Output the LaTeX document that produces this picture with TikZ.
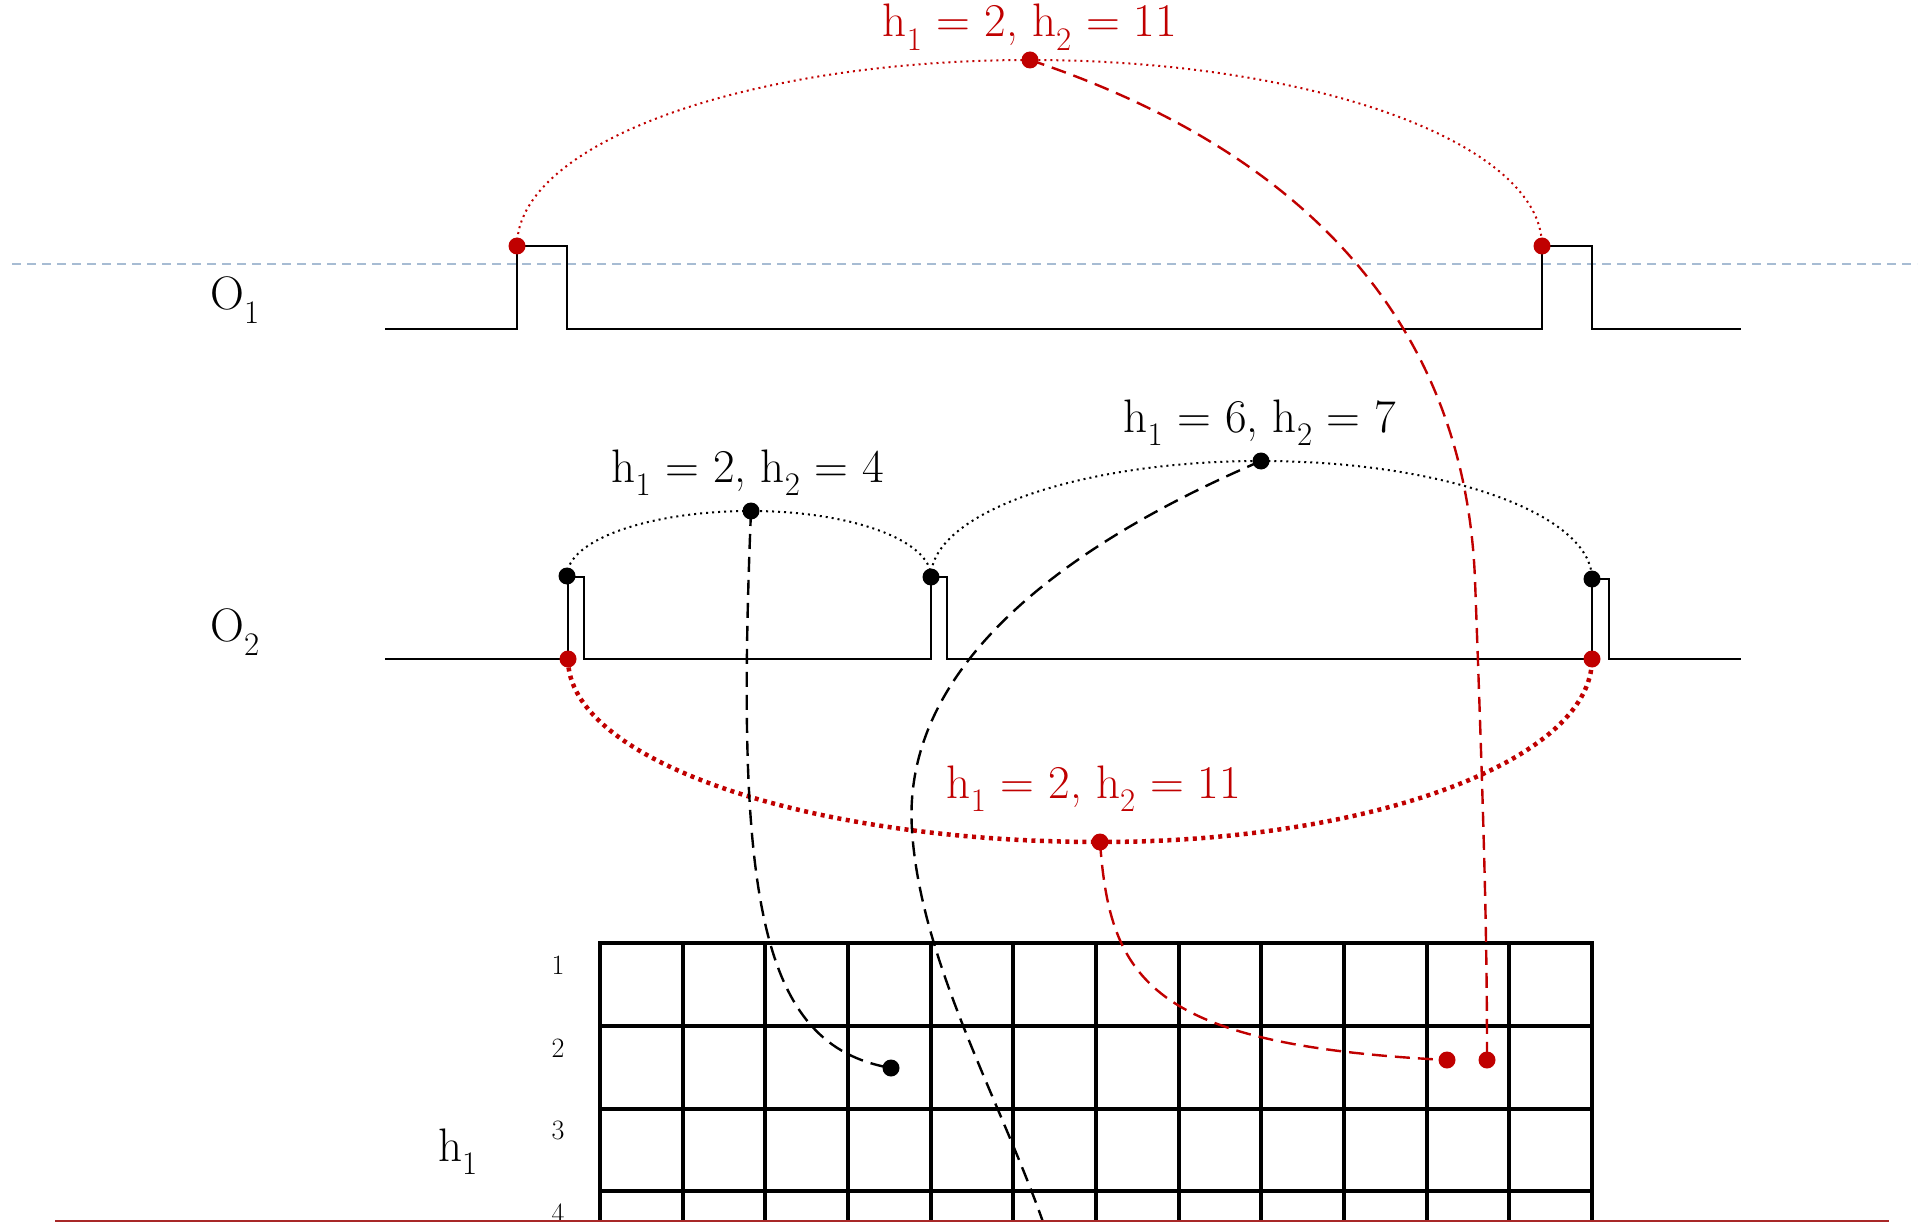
\documentclass[tikz,border=0pt]{standalone}
\usepackage{fontspec}
\definecolor{myred}{HTML}{C00000}
\definecolor{myblue}{HTML}{A7BCD3}
\definecolor{edgered}{HTML}{A82828}
\begin{document}
\begin{tikzpicture}[x=1pt,y=-1pt,
  sig/.style={line width=2.6pt, line join=miter, black},
  gridline/.style={line width=4pt, black},
  rdot/.style={circle, fill=myred, inner sep=0pt, minimum size=17pt},
  bdot/.style={circle, fill=black, inner sep=0pt, minimum size=17pt},
  bdotted/.style={line width=2pt, dash pattern=on 2pt off 4pt, black},
  rdotted/.style={line width=2pt, dash pattern=on 2pt off 4pt, myred},
  rthick/.style={line width=4.5pt, dash pattern=on 4pt off 4.5pt, myred},
  bdash/.style={line width=2.4pt, dash pattern=on 15pt off 8pt, black},
  rdash/.style={line width=2.4pt, dash pattern=on 15pt off 8pt, myred},
  biglab/.style={font=\fontsize{47}{56}\selectfont, inner sep=0pt},
  rowlab/.style={font=\fontsize{28}{34}\selectfont, inner sep=0pt}
]
\useasboundingbox (0,0) rectangle (1927,1222);

% reference dashed line
\draw[myblue, line width=2.5pt, dash pattern=on 9pt off 6pt] (12,264) -- (1917,264);

% signals
\draw[sig] (385,329) -- (517,329) -- (517,246) -- (567,246) -- (567,329) -- (1542,329) -- (1542,246) -- (1592,246) -- (1592,329) -- (1741,329);
\draw[sig] (385,659) -- (568,659) -- (568,577) -- (584,577) -- (584,659) -- (931,659) -- (931,577) -- (947,577) -- (947,659) -- (1592,659) -- (1592,579) -- (1609,579) -- (1609,659) -- (1741,659);

% labels
\node[biglab] (lo1) at (235,300) {O\textsubscript{1}};
\node[biglab] (lo2) at (235,632) {O\textsubscript{2}};
\node[biglab] (lh1) at (458,1152) {h\textsubscript{1}};

\node[biglab, myred, anchor=base] (ltop) at (1030,37) {h\textsubscript{1} = 2, h\textsubscript{2} = 11};
\node[biglab] (lb1) at (748,473) {h\textsubscript{1} = 2, h\textsubscript{2} = 4};
\node[biglab] (lb2) at (1260,423) {h\textsubscript{1} = 6, h\textsubscript{2} = 7};
\node[biglab, myred] (lmid) at (1094,789) {h\textsubscript{1} = 2, h\textsubscript{2} = 11};

% grid
\foreach \i in {0,...,12} {
  \draw[gridline] ({600+82.67*\i},941) -- ({600+82.67*\i},1222);
}
\foreach \y in {943,1026,1109,1191} {
  \draw[gridline] (598,\y) -- (1594,\y);
}
\node[rowlab] (r1) at (558,965) {1};
\node[rowlab] (r2) at (558,1048) {2};
\node[rowlab] (r3) at (558,1130) {3};
\node[rowlab] (r4) at (558,1213) {4};

% dots
\node[rdot] (a1) at (517,246) {};
\node[rdot] (a2) at (1542,246) {};
\node[rdot] (atop) at (1030,60) {};
\node[bdot] (b1) at (567,576) {};
\node[bdot] (b2) at (931,577) {};
\node[bdot] (b3) at (1592,579) {};
\node[bdot] (bp1) at (751,511) {};
\node[bdot] (bp2) at (1261,461) {};
\node[rdot] (c1) at (568,659) {};
\node[rdot] (c2) at (1592,659) {};
\node[rdot] (cmid) at (1100,842) {};
\node[bdot] (g1) at (891,1068) {};
\node[rdot] (g2) at (1447,1060) {};
\node[rdot] (g3) at (1487,1060) {};
\coordinate (exitb) at (1043,1222);

% arcs
\draw[rdotted] (a1.center) .. controls (517,143) and (747,60) .. (atop.center)
  .. controls (1313,60) and (1542,143) .. (a2.center);
\draw[bdotted] (b1.center) .. controls (567,540) and (649,511) .. (bp1.center)
  .. controls (850,511) and (931,540) .. (b2.center);
\draw[bdotted] (b2.center) .. controls (931,513) and (1079,461) .. (bp2.center)
  .. controls (1444,461) and (1592,514) .. (b3.center);
\draw[rthick] (c1.center) .. controls (568,760) and (806,842) .. (cmid.center)
  .. controls (1372,842) and (1592,760) .. (c2.center);

% connectors
\draw[bdash] (bp1.center) .. controls (735,900) and (760,1045) .. (g1.center);
\draw[bdash] (bp2.center) .. controls (1100,530) and (900,650) .. (912,830)
  .. controls (920,960) and (1000,1100) .. (exitb);
\draw[rdash] (atop.center) .. controls (1300,150) and (1465,320) .. (1475,580)
  .. controls (1485,850) and (1487,950) .. (g3.center);
\draw[rdash] (cmid.center) .. controls (1110,980) and (1150,1045) .. (g2.center);

% bottom edge line
\draw[edgered, line width=2pt] (55,1221) -- (1889,1221);
\end{tikzpicture}
\end{document}
